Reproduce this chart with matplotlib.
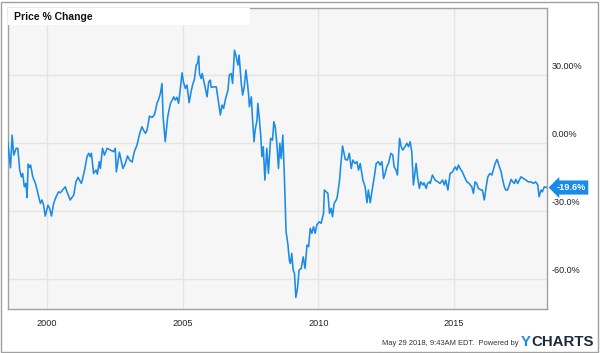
import matplotlib
matplotlib.use("Agg")
import matplotlib.pyplot as plt
import matplotlib.transforms as mtransforms
from matplotlib.patches import Rectangle

plt.rcParams['font.family'] = ['Liberation Sans', 'DejaVu Sans']

# ---- data (decimal year, price % change) ----
dates_1998_2002 = [1998.56, 1998.66, 1998.72, 1998.78, 1998.87, 1998.93,
                   1999.00, 1999.06, 1999.11, 1999.17, 1999.23, 1999.27, 1999.31, 1999.36, 1999.40,
                   1999.48, 1999.58, 1999.64, 1999.70, 1999.76, 1999.82, 1999.88, 1999.94,
                   2000.04, 2000.10, 2000.17, 2000.25, 2000.34, 2000.43, 2000.50, 2000.58, 2000.68,
                   2000.74, 2000.86, 2000.99,
                   2001.07, 2001.15, 2001.20, 2001.27, 2001.32, 2001.39, 2001.48, 2001.54, 2001.60,
                   2001.64, 2001.72, 2001.81, 2001.86, 2001.93, 2001.97,
                   2002.05, 2002.12, 2002.22, 2002.34, 2002.46, 2002.52]
pct_1998_2002 = [0.6, -10.9, 3.5, -5.3, -2.3, -2.3,
                 -11.9, -14.9, -13.4, -19.3, -17.8, -24.0, -9.3, -10.7, -9.7,
                 -14.9, -17.8, -20.7, -23.7, -26.6, -25.1, -27.4, -32.2,
                 -27.4, -28.8, -32.2, -26.6, -23.7, -21.5, -21.9, -20.7, -19.3,
                 -21.5, -25.1, -22.9,
                 -17.1, -15.1, -16.3, -17.8, -15.6, -11.9, -6.0, -4.5, -6.0,
                 -4.5, -13.4, -11.9, -13.7, -8.2, -11.2,
                 -2.3, -5.3, -2.3, -3.1, -3.8, -2.3]

dates_2002_2007 = [2002.56, 2002.67, 2002.80, 2002.89, 2002.97,
                   2003.05, 2003.14, 2003.22, 2003.32, 2003.42, 2003.50, 2003.56, 2003.63, 2003.69,
                   2003.78, 2003.87, 2003.96, 2003.99,
                   2004.06, 2004.11, 2004.18, 2004.24, 2004.28, 2004.36, 2004.45, 2004.55, 2004.62,
                   2004.67, 2004.73, 2004.79, 2004.85, 2004.91, 2004.98,
                   2005.03, 2005.10, 2005.16, 2005.24, 2005.31, 2005.38, 2005.43, 2005.50, 2005.55,
                   2005.59, 2005.62, 2005.68, 2005.72, 2005.80, 2005.90, 2005.96,
                   2006.02, 2006.05, 2006.14, 2006.24, 2006.31, 2006.39, 2006.45, 2006.51, 2006.57,
                   2006.67, 2006.72, 2006.79, 2006.84, 2006.91, 2006.96,
                   2007.04, 2007.08, 2007.16, 2007.21, 2007.27, 2007.33, 2007.39, 2007.43, 2007.46,
                   2007.53, 2007.57, 2007.63, 2007.67, 2007.74, 2007.77, 2007.82, 2007.88, 2007.92,
                   2007.97]
pct_2002_2007 = [-12.7, -4.0, -11.2, -9.0, -5.7,
                 -7.5, -8.4, -3.8, -0.9, 4.3, 7.2, 5.7, 4.3, 5.7,
                 11.9, 11.3, 12.4, 13.8,
                 17.8, 19.0, 21.9, 26.3, 11.6, 0.6, 11.6, 17.5, 19.0,
                 20.4, 19.0, 20.2, 17.5, 23.4, 31.0,
                 27.0, 24.1, 25.6, 17.8, 22.6, 26.3, 27.8, 34.4, 35.2,
                 38.4, 30.7, 28.5, 30.7, 26.3, 20.4, 27.0,
                 27.8, 24.6, 24.8, 24.8, 19.0, 12.4, 16.8, 15.3, 19.0,
                 23.4, 30.0, 30.7, 26.3, 41.0, 38.8,
                 34.4, 38.8, 26.3, 21.2, 24.8, 32.2, 26.3, 21.2, 16.0,
                 20.4, 11.6, 0.6, 5.7, 10.1, 17.5, 11.6, 2.8, -6.0,
                 -1.6]

dates_2008_2010 = [2008.03, 2008.10, 2008.16, 2008.24, 2008.31, 2008.36, 2008.41, 2008.47, 2008.53,
                   2008.58, 2008.63, 2008.69, 2008.74, 2008.81, 2008.88, 2008.93, 2008.97,
                   2009.02, 2009.07, 2009.12, 2009.17, 2009.23, 2009.29, 2009.37, 2009.44,
                   2009.51, 2009.58, 2009.64, 2009.70, 2009.76, 2009.82, 2009.88, 2009.94,
                   2010.03, 2010.10, 2010.19, 2010.22, 2010.29, 2010.35, 2010.41, 2010.47,
                   2010.52, 2010.58, 2010.66, 2010.70, 2010.78, 2010.83, 2010.89, 2010.99]
pct_2008_2010 = [-16.3, -2.3, -13.4, 2.1, 1.3, 9.4, 7.2, -0.1, -11.2,
                 -0.1, -6.8, 3.5, -11.9, -39.1, -45.0, -51.6, -53.1,
                 -48.7, -56.0, -57.5, -68.1, -64.1, -56.0, -55.3, -50.2,
                 -55.3, -45.0, -45.7, -37.6, -39.8, -36.9, -39.8, -36.2,
                 -34.7, -35.4, -31.0, -20.7, -21.5, -22.2, -31.0, -28.8,
                 -32.5, -26.6, -25.1, -23.4, -16.3, -9.0, -1.3, -7.2]

dates_2011_2018 = [2011.07, 2011.14, 2011.21, 2011.27, 2011.35, 2011.42, 2011.48, 2011.54,
                   2011.64, 2011.72, 2011.79, 2011.84, 2011.91, 2011.97,
                   2012.05, 2012.13, 2012.21, 2012.27, 2012.34, 2012.40, 2012.46, 2012.52,
                   2012.58, 2012.67, 2012.74, 2012.79, 2012.86, 2012.91, 2012.99,
                   2013.05, 2013.11, 2013.19, 2013.26, 2013.32, 2013.38, 2013.44, 2013.50,
                   2013.56, 2013.60, 2013.66, 2013.72, 2013.77, 2013.85, 2013.89, 2013.97,
                   2014.02, 2014.09, 2014.12, 2014.20, 2014.30, 2014.40, 2014.48, 2014.57,
                   2014.64, 2014.69, 2014.77, 2014.85, 2014.94,
                   2015.04, 2015.10, 2015.16, 2015.22, 2015.30, 2015.38, 2015.47, 2015.55,
                   2015.65, 2015.71, 2015.77, 2015.83, 2015.89, 2015.99,
                   2016.04, 2016.11, 2016.18, 2016.24, 2016.32, 2016.39, 2016.44, 2016.51,
                   2016.58, 2016.65, 2016.73, 2016.79, 2016.85, 2016.90, 2016.97,
                   2017.03, 2017.10, 2017.16, 2017.22, 2017.27, 2017.34, 2017.40, 2017.46,
                   2017.55, 2017.64, 2017.73, 2017.83, 2017.92,
                   2018.00, 2018.08, 2018.13, 2018.20, 2018.25, 2018.32, 2018.41]
pct_2011_2018 = [-7.5, -4.5, -11.2, -7.5, -9.0, -8.2, -11.9, -9.0,
                 -16.3, -19.3, -26.3, -20.7, -26.3, -21.5,
                 -15.6, -9.0, -8.2, -9.7, -8.2, -15.6, -13.4, -10.5,
                 -9.0, -4.5, -5.3, -10.5, -11.9, -14.1, 2.1,
                 -1.6, -3.1, -1.6, -0.1, -1.6, 0.6, -3.8, -18.5,
                 -12.7, -9.0, -15.6, -20.0, -17.1, -18.5, -17.5, -20.0,
                 -17.8, -17.1, -17.8, -14.1, -16.3, -17.1, -17.8, -16.3,
                 -18.5, -16.3, -20.7, -13.4, -12.7,
                 -10.5, -11.9, -9.7, -11.2, -12.7, -14.9, -17.1, -17.8,
                 -19.3, -22.2, -17.1, -17.8, -20.0, -20.7,
                 -20.7, -25.1, -19.3, -14.9, -13.4, -14.1, -11.9, -9.0,
                 -7.2, -9.7, -12.7, -16.3, -19.3, -20.7, -20.7,
                 -18.5, -16.0, -17.1, -17.8, -16.0, -17.8, -16.3, -14.9,
                 -15.6, -16.3, -17.1, -17.1, -17.8,
                 -17.1, -18.5, -23.7, -20.7, -21.5, -19.3, -19.6]

x_ticks = [2000, 2005, 2010, 2015]
x_tick_labels = ['2000', '2005', '2010', '2015']
y_ticks = [30, 0, -30, -60]
y_tick_labels = ['30.00%', '0.00%', '-30.0%', '-60.0%']
title_text = 'Price % Change'
last_label = '-19.6%'
footer_text = 'May 29 2018, 9:43AM EDT.  Powered by'

dates = dates_1998_2002 + dates_2002_2007 + dates_2008_2010 + dates_2011_2018
pct = pct_1998_2002 + pct_2002_2007 + pct_2008_2010 + pct_2011_2018

LINE = '#1a8be6'

fig = plt.figure(figsize=(6.0, 3.53), dpi=100)
fig.patch.set_facecolor('white')
ax = fig.add_axes([7.5 / 600, 1 - 309 / 353, 539.5 / 600, 301 / 353])
ax.set_facecolor('#f6f6f6')

ax.plot(dates, pct, color=LINE, lw=1.15, solid_joinstyle='round', zorder=3)

ax.set_xlim(1998.55, 2018.42)
ax.set_ylim(-73.2, 59.6)

ax.set_xticks(x_ticks)
ax.set_xticklabels(x_tick_labels, fontsize=6.6, color='#222222')
ax.set_yticks(y_ticks)
ax.set_yticklabels([])
ax.tick_params(axis='both', length=0)
ax.tick_params(axis='x', pad=7)
ax.grid(True, color='#e4e4e4', lw=1.0, zorder=0)
ax.set_axisbelow(True)
for s in ax.spines.values():
    s.set_color('#a0a0a0')
    s.set_linewidth(1.0)

# right-side value labels, slightly above their gridlines
trans = mtransforms.blended_transform_factory(ax.transAxes, ax.transData)
off = mtransforms.ScaledTranslation(3.5 / 72, 3 / 72, fig.dpi_scale_trans)
for v, lab in zip(y_ticks, y_tick_labels):
    ax.text(1.0, v, lab, transform=trans + off, ha='left', va='bottom',
            fontsize=6.5, color='#222222', clip_on=False)

# title box
ax.add_patch(Rectangle((0.0, 1 - 17 / 301), 242 / 539.5, 17 / 301, transform=ax.transAxes,
                       facecolor='white', edgecolor='none', zorder=4))
ax.text(6.5 / 539.5, 1 - 8.5 / 301, title_text, transform=ax.transAxes, ha='left', va='center',
        fontsize=7.5, fontweight='bold', color='#111111', zorder=5)

# last value flag
ax.annotate(last_label, xy=(dates[-1], pct[-1]), xycoords='data',
            xytext=(7, 0), textcoords='offset points', ha='left', va='center',
            fontsize=6.6, fontweight='bold', color='white', annotation_clip=False,
            bbox=dict(boxstyle='larrow,pad=0.28', fc=LINE, ec='none'))

# footer
fig.text(519 / 600, 1 - 343.5 / 353, footer_text, ha='right', va='center',
         fontsize=5.4, color='#333333')
y_txt = fig.text(521 / 600, 1 - 342 / 353, 'Y', ha='left', va='center',
                 fontsize=10.8, fontweight='bold', color='#1a8be6')
fig.text(0, 0, 'CHARTS', ha='left', va='center', fontsize=10.8, fontweight='bold',
         color='#1c2b3b',
         transform=mtransforms.offset_copy(fig.transFigure, fig=fig, x=0, y=0, units='dots'))
# place CHARTS right after Y using the drawn extent
fig.canvas.draw()
bb = y_txt.get_window_extent()
fig.texts[-1].set_position(((bb.x1 + 0.5) / fig.bbox.width, 1 - 342 / 353))
fig.texts[-1].set_transform(fig.transFigure)

# outer border
fig.patches.append(Rectangle((1 / 600, 1.5 / 353), 597 / 600, 350 / 353, transform=fig.transFigure,
                             facecolor='none', edgecolor='#a0a0a0', lw=1.0))

fig.savefig('out.png', dpi=100, facecolor='white')
